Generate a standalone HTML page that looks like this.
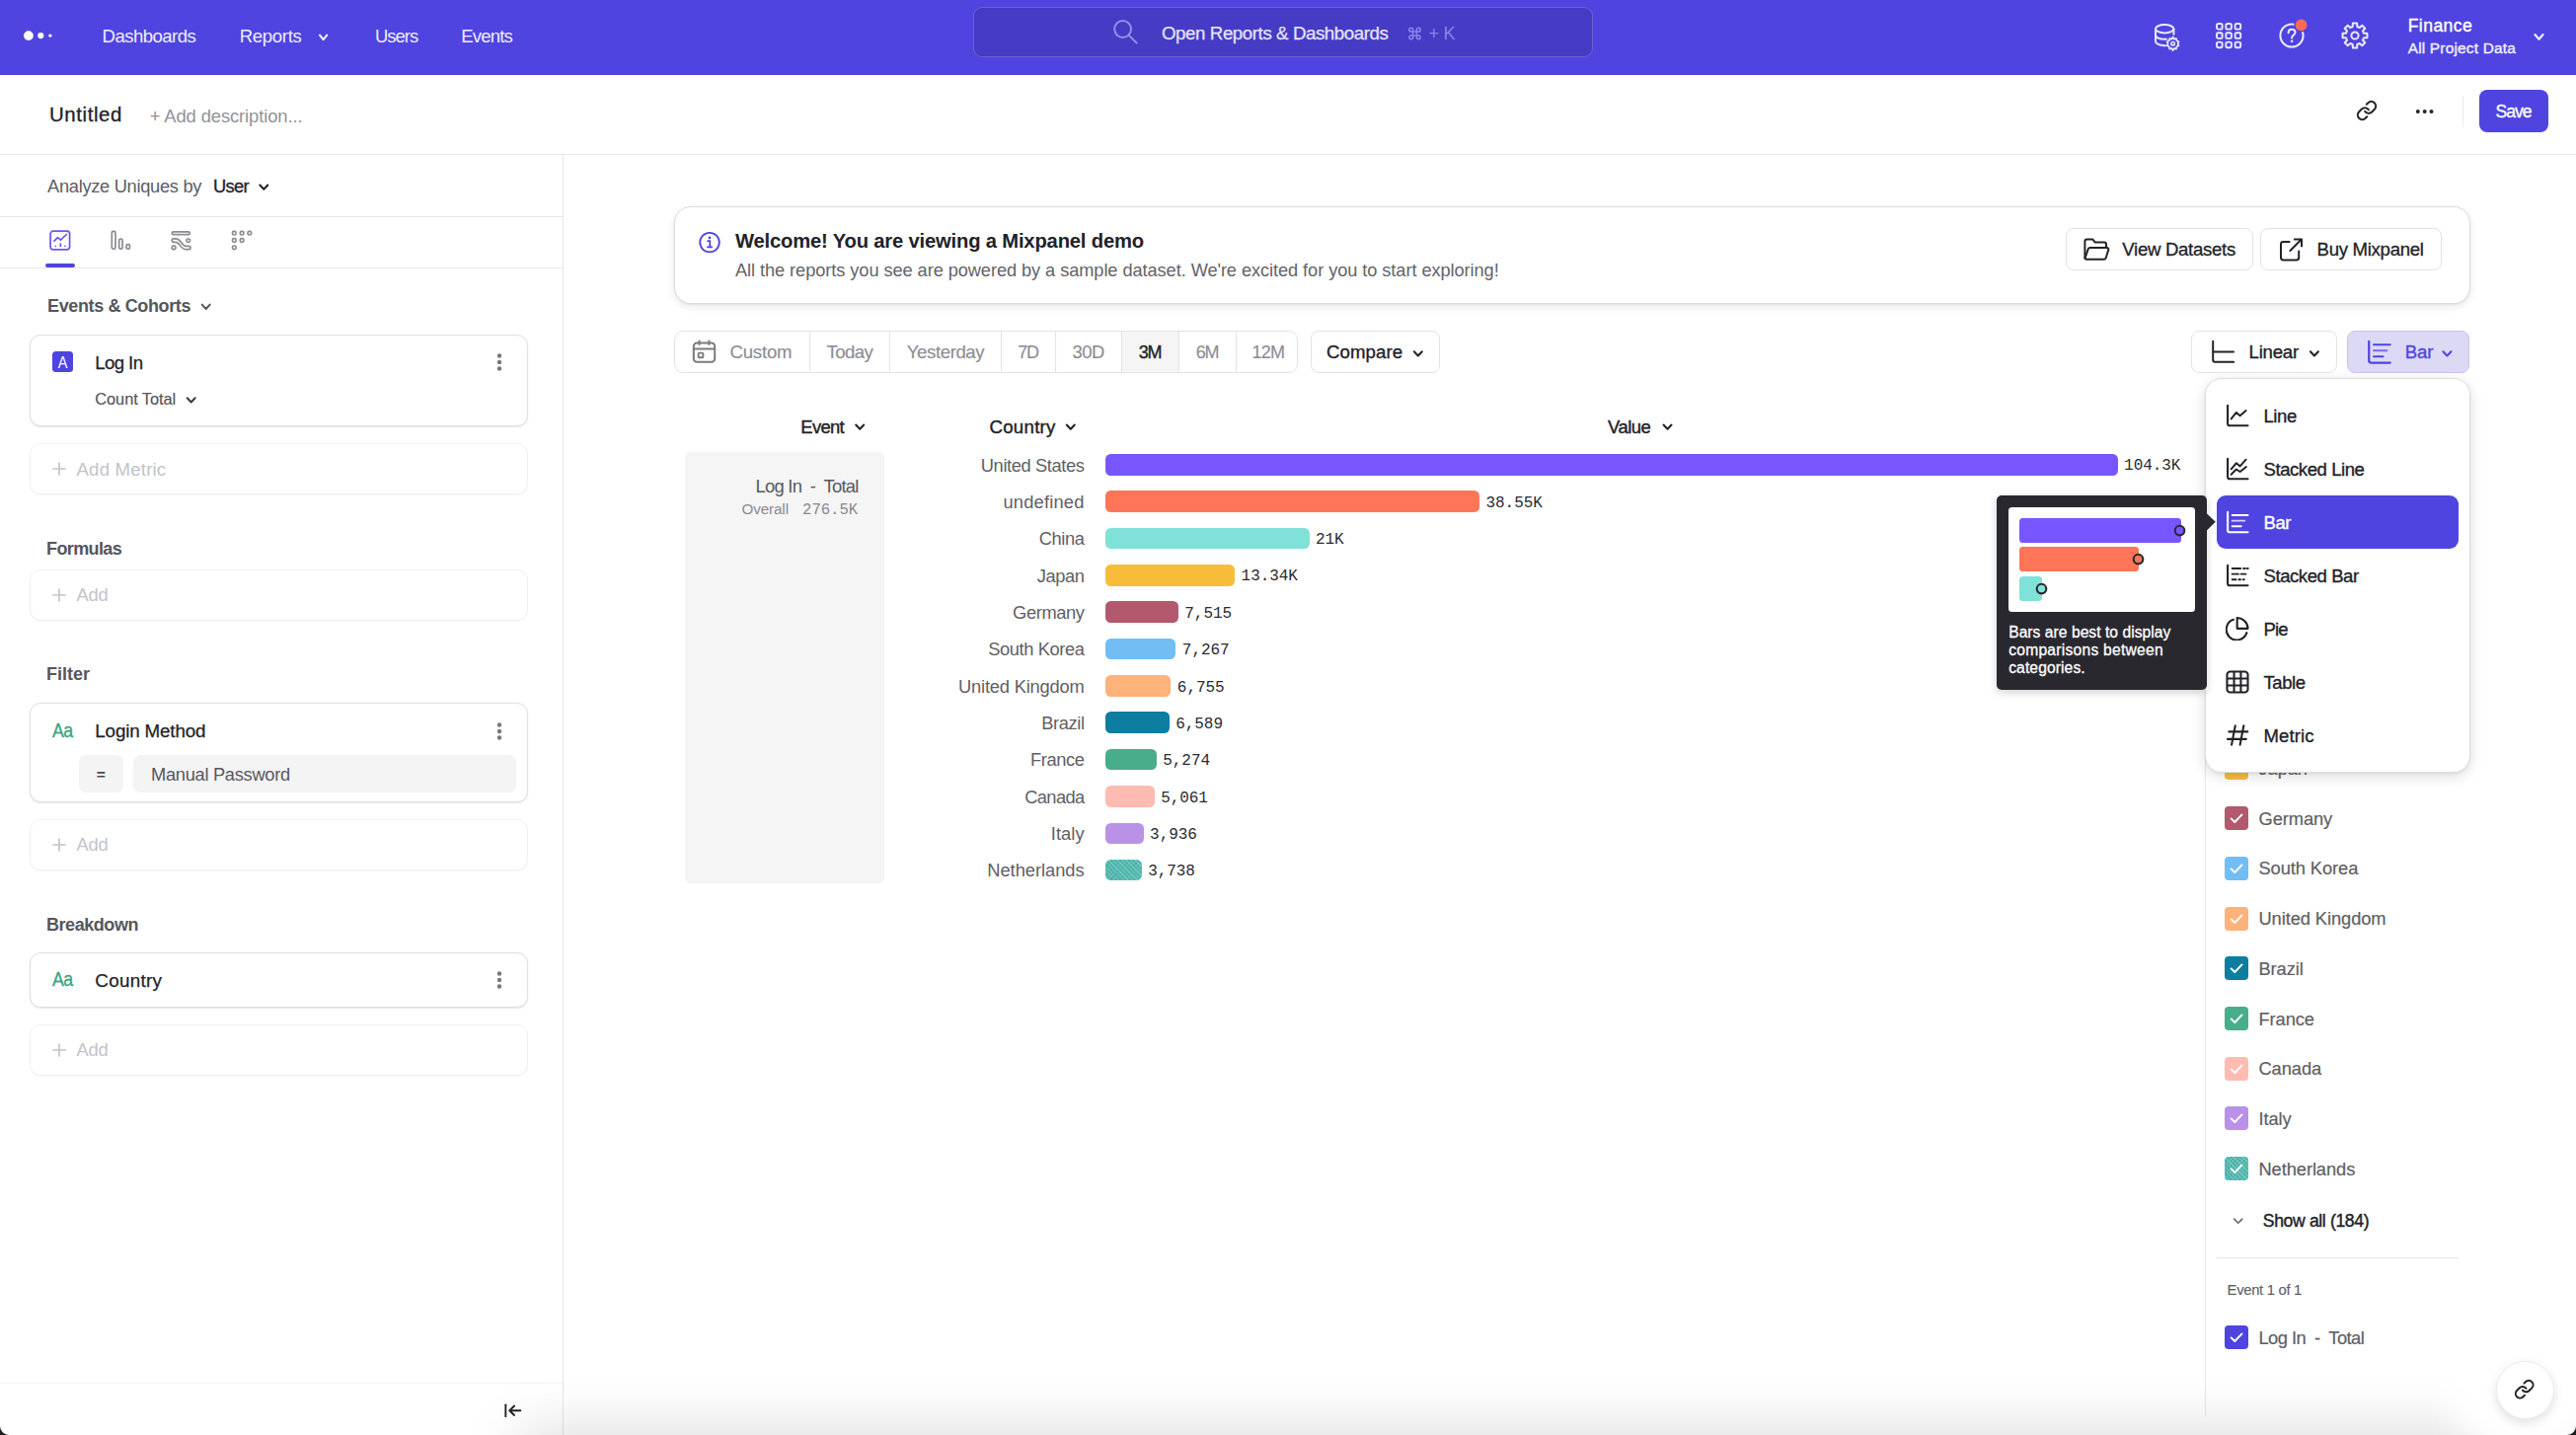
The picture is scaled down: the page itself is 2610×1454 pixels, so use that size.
<!DOCTYPE html>
<html lang="en">
<head>
<meta charset="utf-8">
<title>Untitled - Insights - Mixpanel</title>
<style>
html,body{margin:0;padding:0;background:#fff;font-family:"Liberation Sans",sans-serif;}
header,aside,main,section{display:block;margin:0;padding:0;}
body{width:2610px;height:1454px;overflow:hidden;font-family:"Liberation Sans",sans-serif;}
#app{position:relative;width:2610px;height:1454px;overflow:hidden;background:#fff;}
.t{position:absolute;line-height:1;white-space:nowrap;font-family:"Liberation Sans",sans-serif;}
.m{font-family:"Liberation Mono",monospace;}
svg{display:block;}
.card{box-sizing:border-box;border:1px solid #dfdfe3;border-radius:11px;background:#fff;box-shadow:0 1px 1.6px rgba(0,0,0,.09);}
.ghost{box-sizing:border-box;border:1px solid #f0f0f2;border-radius:11px;background:#fff;box-shadow:0 1px 1px rgba(0,0,0,.03);}
.btn{box-sizing:border-box;border:1px solid #e3e3e7;border-radius:8px;background:#fff;}
.cb{position:absolute;width:24px;height:24px;border-radius:4px;}
</style>
</head>
<body>
<div id="app">
<header>
<div style="position:absolute;left:0px;top:0px;width:2610px;height:76px;background:#4f44e0;"></div>
<svg style="position:absolute;left:20px;top:26px;" width="40" height="20" viewBox="0 0 40 20" fill="none"><circle cx="8.9" cy="10.1" r="4.9" fill="#fff"/><circle cx="21.3" cy="10.1" r="3.1" fill="#fff"/><circle cx="30.9" cy="10.1" r="1.7" fill="#fff"/></svg>
<span class="t" style="top:26px;left:103.5px;font-size:18.6px;line-height:21px;color:#efedfd;letter-spacing:-0.55px;">Dashboards</span>
<span class="t" style="top:26px;left:242.8px;font-size:18.6px;line-height:21px;color:#efedfd;letter-spacing:-0.35px;">Reports</span>
<svg style="position:absolute;left:0;top:0;overflow:visible" width="1" height="1"><path d="M323.9 35.5 L327.6 40.1 L331.3 35.5" stroke="#efedfd" stroke-width="2" fill="none" stroke-linecap="round" stroke-linejoin="round"/></svg>
<span class="t" style="top:26px;left:380px;font-size:18.4px;line-height:21px;color:#efedfd;letter-spacing:-0.95px;">Users</span>
<span class="t" style="top:26px;left:467.3px;font-size:18.5px;line-height:21px;color:#efedfd;letter-spacing:-0.8px;">Events</span>
<div style="position:absolute;left:985.5px;top:7.4px;width:628.4px;height:50.2px;box-sizing:border-box;background:#463bc4;border:1px solid rgba(255,255,255,.20);border-radius:9px;"></div>
<svg style="position:absolute;left:1126px;top:18px;" width="30" height="30" viewBox="0 0 30 30" fill="none"><circle cx="11.6" cy="11.5" r="8.4" stroke="#958ee9" stroke-width="2"/><path d="M17.7 17.6 L25.6 25.5" stroke="#958ee9" stroke-width="2" stroke-linecap="round"/></svg>
<span class="t" style="top:23px;left:1177px;font-size:18.7px;line-height:21px;color:#e6e4fc;letter-spacing:-0.42px;-webkit-text-stroke:0.25px #e6e4fc;">Open Reports &amp; Dashboards</span>
<svg style="position:absolute;left:1426px;top:26.6px;" width="15" height="14" viewBox="1 1 22 22" fill="none"><path d="M18 3a3 3 0 0 0-3 3v12a3 3 0 0 0 3 3 3 3 0 0 0 3-3 3 3 0 0 0-3-3H6a3 3 0 0 0-3 3 3 3 0 0 0 3 3 3 3 0 0 0 3-3V6a3 3 0 0 0-3-3 3 3 0 0 0-3 3 3 3 0 0 0 3 3h12a3 3 0 0 0 3-3 3 3 0 0 0-3-3z" stroke="#8b84e8" stroke-width="2.4" stroke-linejoin="round"/></svg>
<span class="t" style="top:24px;left:1447.6px;font-size:18px;line-height:20px;color:#8b84e8;">+</span>
<span class="t" style="top:24px;left:1462.6px;font-size:18px;line-height:20px;color:#8b84e8;">K</span>
<svg style="position:absolute;left:2181px;top:22px;" width="30" height="32" viewBox="0 0 30 32" fill="none"><ellipse cx="12.2" cy="7.2" rx="9.2" ry="4.2" stroke="#ebe9fc" stroke-width="2"/><path d="M3 7.2v6.4c0 2.3 4.1 4.2 9.2 4.2 .7 0 1.4 0 2-.1M3 13.6V20c0 2.3 4.1 4.2 9.2 4.2 .3 0 .6 0 .9 0M21.4 7.2v5.6" stroke="#ebe9fc" stroke-width="2" stroke-linecap="round"/><circle cx="20.6" cy="22.2" r="2" stroke="#ebe9fc" stroke-width="1.8"/><path d="M20.6 15.6l1.2 1.9 2.2-.4 .5 2.2 2 1-.9 2 .9 2-2 1-.5 2.2-2.2-.4-1.2 1.9-1.2-1.9-2.2 .4-.5-2.2-2-1 .9-2-.9-2 2-1 .5-2.2 2.2 .4z" stroke="#ebe9fc" stroke-width="1.8" stroke-linejoin="round" fill="#4f44e0"/><circle cx="20.6" cy="22.2" r="1.7" stroke="#ebe9fc" stroke-width="1.6" fill="#4f44e0"/></svg>
<svg style="position:absolute;left:2245.2px;top:23.4px;" width="27" height="27" viewBox="0 0 27 27" fill="none"><rect x="1" y="1" width="5.6" height="5.6" rx="1.6" stroke="#ebe9fc" stroke-width="1.9"/><rect x="10.3" y="1" width="5.6" height="5.6" rx="1.6" stroke="#ebe9fc" stroke-width="1.9"/><rect x="19.6" y="1" width="5.6" height="5.6" rx="1.6" stroke="#ebe9fc" stroke-width="1.9"/><rect x="1" y="10.3" width="5.6" height="5.6" rx="1.6" stroke="#ebe9fc" stroke-width="1.9"/><rect x="10.3" y="10.3" width="5.6" height="5.6" rx="1.6" stroke="#ebe9fc" stroke-width="1.9"/><rect x="19.6" y="10.3" width="5.6" height="5.6" rx="1.6" stroke="#ebe9fc" stroke-width="1.9"/><rect x="1" y="19.6" width="5.6" height="5.6" rx="1.6" stroke="#ebe9fc" stroke-width="1.9"/><rect x="10.3" y="19.6" width="5.6" height="5.6" rx="1.6" stroke="#ebe9fc" stroke-width="1.9"/><rect x="19.6" y="19.6" width="5.6" height="5.6" rx="1.6" stroke="#ebe9fc" stroke-width="1.9"/></svg>
<svg style="position:absolute;left:2308px;top:16px;" width="34" height="36" viewBox="0 0 34 36" fill="none"><circle cx="14" cy="20" r="11.6" stroke="#ebe9fc" stroke-width="2"/><path d="M10.6 17.2c0-2 1.5-3.4 3.5-3.4s3.4 1.3 3.4 3c0 2.6-3.4 2.8-3.4 5.6" stroke="#ebe9fc" stroke-width="2" stroke-linecap="round" fill="none"/><circle cx="14.1" cy="25.8" r="1.3" fill="#ebe9fc"/><circle cx="23.6" cy="9.4" r="7.2" fill="#4f44e0"/><circle cx="23.6" cy="9.4" r="5.9" fill="#ff6a52"/></svg>
<svg style="position:absolute;left:2372px;top:22px;" width="28" height="28" viewBox="0 0 28 28" fill="none"><path d="M11.7 4.99 L11.87 1.58 L16.13 1.58 L16.3 4.99 L18.74 6 L21.27 3.71 L24.29 6.73 L22 9.26 L23.01 11.7 L26.42 11.87 L26.42 16.13 L23.01 16.3 L22 18.74 L24.29 21.27 L21.27 24.29 L18.74 22 L16.3 23.01 L16.13 26.42 L11.87 26.42 L11.7 23.01 L9.26 22 L6.73 24.29 L3.71 21.27 L6 18.74 L4.99 16.3 L1.58 16.13 L1.58 11.87 L4.99 11.7 L6 9.26 L3.71 6.73 L6.73 3.71 L9.26 6Z" stroke="#ebe9fc" stroke-width="2" stroke-linejoin="round"/><circle cx="14" cy="14" r="3.6" stroke="#ebe9fc" stroke-width="2"/></svg>
<span class="t" style="top:16px;left:2439.7px;font-size:17.6px;line-height:20px;color:#fff;letter-spacing:0.42px;-webkit-text-stroke:0.35px #fff;">Finance</span>
<span class="t" style="top:40px;left:2439.7px;font-size:15.4px;line-height:17px;color:#f3f2fe;letter-spacing:0.2px;-webkit-text-stroke:0.35px #f3f2fe;">All Project Data</span>
<svg style="position:absolute;left:0;top:0;overflow:visible" width="1" height="1"><path d="M2568.45 35.05 L2572.5 39.76 L2576.56 35.05" stroke="#f3f2fe" stroke-width="2.1" fill="none" stroke-linecap="round" stroke-linejoin="round"/></svg>
<div style="position:absolute;left:0px;top:76px;width:2610px;height:80px;background:#fff;border-bottom:1px solid #e3e3e6;"></div>
<span class="t" style="top:105px;left:50px;font-size:20.4px;line-height:22px;color:#222228;letter-spacing:0.6px;-webkit-text-stroke:0.3px #222228;">Untitled</span>
<span class="t" style="top:107px;left:151.7px;font-size:18.4px;line-height:21px;color:#929298;letter-spacing:-0.11px;">+ Add description...</span>
<svg style="position:absolute;left:2387.4px;top:101.1px;" width="22" height="22" viewBox="0 0 24 24" fill="none"><path d="M10 13a5 5 0 0 0 7.540.540l3-3a5 5 0 0 0-7.070-7.070l-1.720 1.710" stroke="#25252b" stroke-width="2.3" stroke-linecap="round" stroke-linejoin="round"/><path d="M14 11a5 5 0 0 0-7.540-.540l-3 3a5 5 0 0 0 7.070 7.070l1.710-1.710" stroke="#25252b" stroke-width="2.3" stroke-linecap="round" stroke-linejoin="round"/></svg>
<svg style="position:absolute;left:2446px;top:109px;" width="22" height="8" viewBox="0 0 22 8" fill="none"><circle cx="3.8" cy="3.9" r="2" fill="#25252b"/><circle cx="10.7" cy="3.9" r="2" fill="#25252b"/><circle cx="17.5" cy="3.9" r="2" fill="#25252b"/></svg>
<div style="position:absolute;left:2495px;top:97px;width:1px;height:32px;background:#ededf0;"></div>
<div style="position:absolute;left:2512.2px;top:91.1px;width:69.8px;height:42.8px;background:#4f44e0;border-radius:8px;"></div>
<span class="t" style="top:103px;left:2528.6px;font-size:17.6px;line-height:20px;color:#fff;letter-spacing:-1.05px;-webkit-text-stroke:0.3px #fff;">Save</span>
</header>
<aside>
<div style="position:absolute;left:570px;top:157px;width:1px;height:1300px;background:#e6e6e9;"></div>
<span class="t" style="top:178px;left:48px;font-size:18.3px;line-height:21px;color:#5d5d63;letter-spacing:-0.3px;">Analyze Uniques by</span>
<span class="t" style="top:178px;left:216px;font-size:18.3px;line-height:21px;color:#222228;letter-spacing:-0.65px;-webkit-text-stroke:0.3px #222228;">User</span>
<svg style="position:absolute;left:0;top:0;overflow:visible" width="1" height="1"><path d="M263.3 187.45 L267.3 191.75 L271.3 187.45" stroke="#222228" stroke-width="2" fill="none" stroke-linecap="round" stroke-linejoin="round"/></svg>
<div style="position:absolute;left:0px;top:219px;width:570px;height:1px;background:#e6e6e9;"></div>
<svg style="position:absolute;left:49px;top:232px;" width="24" height="24" viewBox="0 0 24 24" fill="none"><rect x="2.100" y="2.200" width="19.500" height="18.600" rx="2.800" stroke="#6c55f0" stroke-width="1.700"/><path d="M6 12.200l3.500-3.600 2.900 2.500 6-5.600" stroke="#6c55f0" stroke-width="1.700" stroke-linecap="round" stroke-linejoin="round"/><path d="M7.300 17.500v-.300M12.300 17.600v-2.600M16.900 17.500v-.300" stroke="#6c55f0" stroke-width="1.600" stroke-linecap="round"/></svg>
<div style="position:absolute;left:46px;top:267px;width:30px;height:4px;background:#4f44e0;border-radius:2px;"></div>
<svg style="position:absolute;left:111px;top:232px;" width="24" height="24" viewBox="0 0 24 24" fill="none"><rect x="2.300" y="2.400" width="3.700" height="17.800" rx="1.500" stroke="#8b8b92" stroke-width="1.700"/><rect x="9.700" y="10.200" width="3.400" height="10" rx="1.400" stroke="#8b8b92" stroke-width="1.700"/><rect x="17.100" y="15.600" width="3.400" height="4.600" rx="1.300" stroke="#8b8b92" stroke-width="1.700"/></svg>
<svg style="position:absolute;left:172px;top:232px;" width="24" height="24" viewBox="0 0 24 24" fill="none"><rect x="2.300" y="2.800" width="18" height="2.800" rx="1.400" stroke="#8b8b92" stroke-width="1.700"/><path d="M3.900 9.900h2.300c5.200 0 5.600 7.400 10.400 7.400h2.700a1.700 1.700 0 0 1 0 3.400h-3c-5.500 0-6-7.400-10.200-7.400H3.900a1.700 1.700 0 0 1 0-3.400z" stroke="#8b8b92" stroke-width="1.700" stroke-linejoin="round"/><rect x="17" y="10" width="3.500" height="3.300" rx="1.300" stroke="#8b8b92" stroke-width="1.700"/><rect x="2.300" y="17.200" width="3.600" height="3.500" rx="1.300" stroke="#8b8b92" stroke-width="1.700"/></svg>
<svg style="position:absolute;left:233px;top:232px;" width="24" height="24" viewBox="0 0 24 24" fill="none"><rect x="2.5" y="2.4" width="3.600" height="3.600" rx="1.500" stroke="#8b8b92" stroke-width="1.700"/><rect x="10.3" y="2.4" width="3.600" height="3.600" rx="1.500" stroke="#8b8b92" stroke-width="1.700"/><rect x="18" y="2.4" width="3.600" height="3.600" rx="1.500" stroke="#8b8b92" stroke-width="1.700"/><rect x="2.5" y="9.7" width="3.600" height="3.600" rx="1.500" stroke="#8b8b92" stroke-width="1.700"/><rect x="10.3" y="9.7" width="3.600" height="3.600" rx="1.500" stroke="#8b8b92" stroke-width="1.700"/><rect x="2.5" y="17" width="3.600" height="3.600" rx="1.500" stroke="#8b8b92" stroke-width="1.700"/></svg>
<div style="position:absolute;left:0px;top:271px;width:570px;height:1px;background:#e6e6e9;"></div>
<span class="t" style="top:300px;left:48px;font-size:18px;line-height:20px;color:#56565c;font-weight:700;letter-spacing:-0.37px;">Events &amp; Cohorts</span>
<svg style="position:absolute;left:0;top:0;overflow:visible" width="1" height="1"><path d="M204.7 308.65 L208.7 312.95 L212.7 308.65" stroke="#56565c" stroke-width="2" fill="none" stroke-linecap="round" stroke-linejoin="round"/></svg>
<div class="card" style="position:absolute;left:30px;top:339px;width:505px;height:93px;"></div>
<div style="position:absolute;left:52.8px;top:356.2px;width:21.2px;height:21px;background:#4f44e0;border-radius:3.5px;"></div>
<span class="t" style="top:358px;left:58.1px;font-size:16.8px;line-height:19px;color:#fff;transform:scaleX(.86);transform-origin:50% 50%;">A</span>
<span class="t" style="top:357px;left:96.3px;font-size:18.6px;line-height:21px;color:#222228;letter-spacing:-0.6px;-webkit-text-stroke:0.25px #222228;">Log In</span>
<svg style="position:absolute;left:502px;top:355.8px;" width="8" height="22" viewBox="0 0 8 22" fill="none"><circle cx="4" cy="4.5" r="2.2" fill="#77777d"/><circle cx="4" cy="11" r="2.2" fill="#77777d"/><circle cx="4" cy="17.5" r="2.2" fill="#77777d"/></svg>
<span class="t" style="top:395px;left:96.3px;font-size:16.4px;line-height:18px;color:#54545a;letter-spacing:-0.08px;-webkit-text-stroke:0.15px #54545a;">Count Total</span>
<svg style="position:absolute;left:0;top:0;overflow:visible" width="1" height="1"><path d="M189.7 403.25 L193.7 407.55 L197.7 403.25" stroke="#3a3a40" stroke-width="2" fill="none" stroke-linecap="round" stroke-linejoin="round"/></svg>
<div class="ghost" style="position:absolute;left:30px;top:449px;width:505px;height:52px;"></div>
<svg style="position:absolute;left:53px;top:468.2px;" width="14" height="14" viewBox="0 0 14 14" fill="none"><path d="M7 1v12M1 7h12" stroke="#c3c3c9" stroke-width="1.7" stroke-linecap="round"/></svg>
<span class="t" style="top:465px;left:77.5px;font-size:18.6px;line-height:21px;color:#c3c3c9;letter-spacing:0.2px;">Add Metric</span>
<span class="t" style="top:546px;left:47px;font-size:18px;line-height:20px;color:#56565c;font-weight:700;letter-spacing:-0.62px;">Formulas</span>
<div class="ghost" style="position:absolute;left:30px;top:576.6px;width:505px;height:52px;"></div>
<svg style="position:absolute;left:53px;top:595.6px;" width="14" height="14" viewBox="0 0 14 14" fill="none"><path d="M7 1v12M1 7h12" stroke="#c3c3c9" stroke-width="1.7" stroke-linecap="round"/></svg>
<span class="t" style="top:592px;left:77.5px;font-size:18.3px;line-height:21px;color:#c3c3c9;letter-spacing:-0.15px;">Add</span>
<span class="t" style="top:673px;left:47px;font-size:18px;line-height:20px;color:#56565c;font-weight:700;">Filter</span>
<div class="card" style="position:absolute;left:30px;top:712.4px;width:505px;height:100.6px;"></div>
<span class="t" style="top:729px;left:52.8px;font-size:20.2px;line-height:22px;color:#3fa583;letter-spacing:-0.6px;-webkit-text-stroke:0.35px #3fa583;transform:scaleX(.88);transform-origin:0 50%;">Aa</span>
<span class="t" style="top:730px;left:96.3px;font-size:18.8px;line-height:21px;color:#222228;letter-spacing:-0.15px;-webkit-text-stroke:0.25px #222228;">Login Method</span>
<svg style="position:absolute;left:502px;top:730px;" width="8" height="22" viewBox="0 0 8 22" fill="none"><circle cx="4" cy="4.5" r="2.2" fill="#77777d"/><circle cx="4" cy="11" r="2.2" fill="#77777d"/><circle cx="4" cy="17.5" r="2.2" fill="#77777d"/></svg>
<div style="position:absolute;left:80px;top:765px;width:44.8px;height:37.7px;background:#f4f4f5;border-radius:7px;"></div>
<span class="t" style="top:776px;left:97.8px;font-size:15.5px;line-height:17px;color:#4a4a50;font-weight:700;">=</span>
<div style="position:absolute;left:134.8px;top:765px;width:388px;height:37.7px;background:#f4f4f5;border-radius:7px;"></div>
<span class="t" style="top:774px;left:153px;font-size:18.3px;line-height:21px;color:#58585e;letter-spacing:-0.3px;">Manual Password</span>
<div class="ghost" style="position:absolute;left:30px;top:829.7px;width:505px;height:52px;"></div>
<svg style="position:absolute;left:53px;top:848.7px;" width="14" height="14" viewBox="0 0 14 14" fill="none"><path d="M7 1v12M1 7h12" stroke="#c3c3c9" stroke-width="1.7" stroke-linecap="round"/></svg>
<span class="t" style="top:845px;left:77.5px;font-size:18.3px;line-height:21px;color:#c3c3c9;letter-spacing:-0.15px;">Add</span>
<span class="t" style="top:927px;left:47px;font-size:18px;line-height:20px;color:#56565c;font-weight:700;letter-spacing:-0.45px;">Breakdown</span>
<div class="card" style="position:absolute;left:30px;top:965.4px;width:505px;height:55.8px;"></div>
<span class="t" style="top:981px;left:52.8px;font-size:20.2px;line-height:22px;color:#3fa583;letter-spacing:-0.6px;-webkit-text-stroke:0.35px #3fa583;transform:scaleX(.88);transform-origin:0 50%;">Aa</span>
<span class="t" style="top:983px;left:96.3px;font-size:18.8px;line-height:21px;color:#222228;letter-spacing:0.3px;-webkit-text-stroke:0.25px #222228;">Country</span>
<svg style="position:absolute;left:502px;top:982.4px;" width="8" height="22" viewBox="0 0 8 22" fill="none"><circle cx="4" cy="4.5" r="2.2" fill="#77777d"/><circle cx="4" cy="11" r="2.2" fill="#77777d"/><circle cx="4" cy="17.5" r="2.2" fill="#77777d"/></svg>
<div class="ghost" style="position:absolute;left:30px;top:1038px;width:505px;height:52px;"></div>
<svg style="position:absolute;left:53px;top:1057px;" width="14" height="14" viewBox="0 0 14 14" fill="none"><path d="M7 1v12M1 7h12" stroke="#c3c3c9" stroke-width="1.7" stroke-linecap="round"/></svg>
<span class="t" style="top:1053px;left:77.5px;font-size:18.3px;line-height:21px;color:#c3c3c9;letter-spacing:-0.15px;">Add</span>
<div style="position:absolute;left:0px;top:1401px;width:570px;height:1px;background:#f3f3f5;"></div>
<svg style="position:absolute;left:509.8px;top:1421.1px;" width="19.7" height="16.1" viewBox="0 0 22 18" fill="none"><path d="M2.6 2.6v13.2" stroke="#222228" stroke-width="2.1" stroke-linecap="round"/><path d="M19.4 9.2H7.2M12.4 3.9 7 9.2l5.4 5.3" stroke="#222228" stroke-width="2.1" stroke-linecap="round" stroke-linejoin="round"/></svg>
</aside>
<main>
<div style="position:absolute;left:682.5px;top:209px;width:1820.5px;height:98.6px;box-sizing:border-box;background:#fff;border:1px solid #dcdce0;border-radius:17px;box-shadow:0 3px 8px rgba(0,0,0,.09),0 1px 2px rgba(0,0,0,.05);"></div>
<svg style="position:absolute;left:707px;top:234px;" width="24" height="24" viewBox="0 0 24 24" fill="none"><circle cx="12" cy="11.6" r="9.8" stroke="#4f44e0" stroke-width="1.850"/><circle cx="12" cy="6.9" r="1.35" fill="#4f44e0"/><path d="M10.2 10.2h2.1v6M9.9 16.3h4.4" stroke="#4f44e0" stroke-width="1.8" stroke-linecap="round" stroke-linejoin="round"/></svg>
<span class="t" style="top:233px;left:745px;font-size:20.2px;line-height:22px;color:#222228;font-weight:700;letter-spacing:-0.17px;">Welcome! You are viewing a Mixpanel demo</span>
<span class="t" style="top:264px;left:745px;font-size:18.2px;line-height:20px;color:#636368;letter-spacing:-0.06px;">All the reports you see are powered by a sample dataset. We're excited for you to start exploring!</span>
<div class="btn" style="position:absolute;left:2093.3px;top:231.4px;width:189.6px;height:42.6px;"></div>
<svg style="position:absolute;left:2110px;top:239px;" width="29" height="28" viewBox="0 0 29 28" fill="none"><path d="M2.400 22.400V5.400c0-1.200.9-2 2-2h5.800l2.600 3.200h9.200c1.200 0 2 .9 2 2v3.200" stroke="#222228" stroke-width="2" stroke-linejoin="round" stroke-linecap="round"/><path d="M2.500 22.800l3.200-9.400c.3-.8 1-1.300 1.900-1.300h17.200c1.100 0 1.800 1 1.500 2l-2.600 8.200c-.3.800-1 1.400-1.900 1.400H4c-1 0-1.700-.700-1.500-1.600z" stroke="#222228" stroke-width="2" stroke-linejoin="round"/></svg>
<span class="t" style="top:242px;left:2150.3px;font-size:18.6px;line-height:21px;color:#222228;letter-spacing:-0.3px;-webkit-text-stroke:0.3px #222228;">View Datasets</span>
<div class="btn" style="position:absolute;left:2289.8px;top:231.4px;width:184.2px;height:42.6px;"></div>
<svg style="position:absolute;left:2308px;top:239.6px;" width="28" height="27" viewBox="0 0 28 27" fill="none"><path d="M11.600 5H5.400c-1.400 0-2.400 1-2.400 2.400v13.600c0 1.400 1 2.400 2.400 2.400h13.400c1.400 0 2.400-1 2.400-2.400v-6.400" stroke="#222228" stroke-width="2" stroke-linecap="round"/><path d="M16.800 2.400h7.200v7.200M23.600 2.800 12.400 14" stroke="#222228" stroke-width="2" stroke-linecap="round" stroke-linejoin="round"/></svg>
<span class="t" style="top:242px;left:2347.6px;font-size:18.6px;line-height:21px;color:#222228;letter-spacing:-0.3px;-webkit-text-stroke:0.3px #222228;">Buy Mixpanel</span>
<div style="position:absolute;left:683.3px;top:335px;width:632.2px;height:42.5px;box-sizing:border-box;border:1px solid #e3e3e7;border-radius:9px;background:#fff;"></div>
<div style="position:absolute;left:1137px;top:336px;width:57.5px;height:40.5px;background:#f5f5f6;"></div>
<div style="position:absolute;left:820.3px;top:336px;width:1px;height:41px;background:#e3e3e7;"></div>
<div style="position:absolute;left:901.3px;top:336px;width:1px;height:41px;background:#e3e3e7;"></div>
<div style="position:absolute;left:1014.3px;top:336px;width:1px;height:41px;background:#e3e3e7;"></div>
<div style="position:absolute;left:1069.3px;top:336px;width:1px;height:41px;background:#e3e3e7;"></div>
<div style="position:absolute;left:1136.3px;top:336px;width:1px;height:41px;background:#e3e3e7;"></div>
<div style="position:absolute;left:1194.3px;top:336px;width:1px;height:41px;background:#e3e3e7;"></div>
<div style="position:absolute;left:1252.3px;top:336px;width:1px;height:41px;background:#e3e3e7;"></div>
<svg style="position:absolute;left:701px;top:343px;" width="26" height="26" viewBox="0 0 26 26" fill="none"><rect x="1.8" y="4.400" width="21.400" height="19.400" rx="3.400" stroke="#7a7a80" stroke-width="2"/><path d="M2 10.400h21M7.600 2.600v3.400M17.400 2.600v3.400" stroke="#7a7a80" stroke-width="2" stroke-linecap="round"/><rect x="6.600" y="14.600" width="4.800" height="4.600" rx="1" stroke="#7a7a80" stroke-width="1.900"/></svg>
<span class="t" style="top:346px;left:739.5px;font-size:18.6px;line-height:21px;color:#8d8d93;letter-spacing:-0.2px;-webkit-text-stroke:0.15px #8d8d93;">Custom</span>
<span class="t" style="top:346px;left:837.5px;font-size:18.6px;line-height:21px;color:#8d8d93;letter-spacing:-0.6px;-webkit-text-stroke:0.15px #8d8d93;">Today</span>
<span class="t" style="top:346px;left:918.8px;font-size:18.6px;line-height:21px;color:#8d8d93;letter-spacing:-0.4px;-webkit-text-stroke:0.15px #8d8d93;">Yesterday</span>
<span class="t" style="top:347px;left:1031.3px;font-size:18px;line-height:20px;color:#8d8d93;letter-spacing:-1.2px;-webkit-text-stroke:0.15px #8d8d93;">7D</span>
<span class="t" style="top:346px;left:1086.5px;font-size:18.4px;line-height:21px;color:#8d8d93;letter-spacing:-0.45px;-webkit-text-stroke:0.15px #8d8d93;">30D</span>
<span class="t" style="top:347px;left:1153.8px;font-size:18px;line-height:20px;color:#222228;letter-spacing:-1.2px;-webkit-text-stroke:0.35px #222228;">3M</span>
<span class="t" style="top:347px;left:1211.8px;font-size:18px;line-height:20px;color:#8d8d93;letter-spacing:-1.2px;-webkit-text-stroke:0.15px #8d8d93;">6M</span>
<span class="t" style="top:347px;left:1268.5px;font-size:18px;line-height:20px;color:#8d8d93;letter-spacing:-0.8px;-webkit-text-stroke:0.15px #8d8d93;">12M</span>
<div class="btn" style="position:absolute;left:1327.5px;top:335px;width:131.2px;height:42.5px;"></div>
<span class="t" style="top:346px;left:1344px;font-size:18.6px;line-height:21px;color:#222228;letter-spacing:0.12px;-webkit-text-stroke:0.35px #222228;">Compare</span>
<svg style="position:absolute;left:0;top:0;overflow:visible" width="1" height="1"><path d="M1432.8 356.25 L1436.8 360.55 L1440.8 356.25" stroke="#222228" stroke-width="2" fill="none" stroke-linecap="round" stroke-linejoin="round"/></svg>
<span class="t" style="top:422px;left:811.3px;font-size:18.4px;line-height:21px;color:#222228;letter-spacing:-0.65px;-webkit-text-stroke:0.4px #222228;">Event</span>
<svg style="position:absolute;left:0;top:0;overflow:visible" width="1" height="1"><path d="M867.2 430.45 L871.2 434.75 L875.2 430.45" stroke="#222228" stroke-width="2" fill="none" stroke-linecap="round" stroke-linejoin="round"/></svg>
<span class="t" style="top:422px;left:1002.5px;font-size:18.6px;line-height:21px;color:#222228;letter-spacing:0.3px;-webkit-text-stroke:0.4px #222228;">Country</span>
<svg style="position:absolute;left:0;top:0;overflow:visible" width="1" height="1"><path d="M1080.8 430.45 L1084.8 434.75 L1088.8 430.45" stroke="#222228" stroke-width="2" fill="none" stroke-linecap="round" stroke-linejoin="round"/></svg>
<span class="t" style="top:422px;left:1629px;font-size:18.4px;line-height:21px;color:#222228;letter-spacing:-0.5px;-webkit-text-stroke:0.4px #222228;">Value</span>
<svg style="position:absolute;left:0;top:0;overflow:visible" width="1" height="1"><path d="M1685.5 430.45 L1689.5 434.75 L1693.5 430.45" stroke="#222228" stroke-width="2" fill="none" stroke-linecap="round" stroke-linejoin="round"/></svg>
<div style="position:absolute;left:694.3px;top:458px;width:201.5px;height:436.5px;background:#f5f5f6;border-radius:5px;"></div>
<span class="t" style="top:482px;right:1740.4px;font-size:18.4px;line-height:21px;color:#58585e;letter-spacing:-0.76px;">Log In &nbsp;-&nbsp; Total</span>
<span class="t m" style="top:508px;right:1740.8px;font-size:15.6px;line-height:18px;color:#8a8a90;">276.5K</span>
<span class="t" style="top:507px;left:751.5px;font-size:15.2px;line-height:17px;color:#8a8a90;letter-spacing:-0.1px;">Overall</span>
<div style="position:absolute;left:1120px;top:460px;width:1025.7px;height:21.6px;background:#7856ff;border-radius:5.5px;"></div>
<span class="t" style="top:461px;right:1511.4px;font-size:18.3px;line-height:21px;color:#5f5f65;letter-spacing:-0.38px;">United States</span>
<span class="t m" style="top:463px;left:2152.1px;font-size:16px;line-height:18px;color:#2b2b31;letter-spacing:-0.05px;">104.3K</span>
<div style="position:absolute;left:1120px;top:497.35px;width:379.11px;height:21.6px;background:#ff7557;border-radius:5.5px;"></div>
<span class="t" style="top:498px;right:1511.4px;font-size:18.3px;line-height:21px;color:#5f5f65;letter-spacing:0.2px;">undefined</span>
<span class="t m" style="top:501px;left:1505.51px;font-size:16px;line-height:18px;color:#2b2b31;letter-spacing:-0.05px;">38.55K</span>
<div style="position:absolute;left:1120px;top:534.7px;width:206.52px;height:21.6px;background:#80e1d9;border-radius:5.5px;"></div>
<span class="t" style="top:535px;right:1511.4px;font-size:18.3px;line-height:21px;color:#5f5f65;letter-spacing:-0.38px;">China</span>
<span class="t m" style="top:538px;left:1332.92px;font-size:16px;line-height:18px;color:#2b2b31;letter-spacing:-0.05px;">21K</span>
<div style="position:absolute;left:1120px;top:572.05px;width:131.19px;height:21.6px;background:#f8bc3b;border-radius:5.5px;"></div>
<span class="t" style="top:573px;right:1511.4px;font-size:18.3px;line-height:21px;color:#5f5f65;letter-spacing:-0.38px;">Japan</span>
<span class="t m" style="top:575px;left:1257.59px;font-size:16px;line-height:18px;color:#2b2b31;letter-spacing:-0.05px;">13.34K</span>
<div style="position:absolute;left:1120px;top:609.4px;width:73.9px;height:21.6px;background:#b2596e;border-radius:5.5px;"></div>
<span class="t" style="top:610px;right:1511.4px;font-size:18.3px;line-height:21px;color:#5f5f65;letter-spacing:-0.38px;">Germany</span>
<span class="t m" style="top:613px;left:1200.3px;font-size:16px;line-height:18px;color:#2b2b31;letter-spacing:-0.05px;">7,515</span>
<div style="position:absolute;left:1120px;top:646.75px;width:71.46px;height:21.6px;background:#72bef4;border-radius:5.5px;"></div>
<span class="t" style="top:647px;right:1511.4px;font-size:18.3px;line-height:21px;color:#5f5f65;letter-spacing:-0.38px;">South Korea</span>
<span class="t m" style="top:650px;left:1197.86px;font-size:16px;line-height:18px;color:#2b2b31;letter-spacing:-0.05px;">7,267</span>
<div style="position:absolute;left:1120px;top:684.1px;width:66.43px;height:21.6px;background:#ffb27a;border-radius:5.5px;"></div>
<span class="t" style="top:685px;right:1511.4px;font-size:18.3px;line-height:21px;color:#5f5f65;letter-spacing:-0.18px;">United Kingdom</span>
<span class="t m" style="top:688px;left:1192.83px;font-size:16px;line-height:18px;color:#2b2b31;letter-spacing:-0.05px;">6,755</span>
<div style="position:absolute;left:1120px;top:721.45px;width:64.8px;height:21.6px;background:#0d7ea0;border-radius:5.5px;"></div>
<span class="t" style="top:722px;right:1511.4px;font-size:18.3px;line-height:21px;color:#5f5f65;letter-spacing:-0.38px;">Brazil</span>
<span class="t m" style="top:725px;left:1191.2px;font-size:16px;line-height:18px;color:#2b2b31;letter-spacing:-0.05px;">6,589</span>
<div style="position:absolute;left:1120px;top:758.8px;width:51.87px;height:21.6px;background:#48ad8b;border-radius:5.5px;"></div>
<span class="t" style="top:759px;right:1511.4px;font-size:18.3px;line-height:21px;color:#5f5f65;letter-spacing:-0.38px;">France</span>
<span class="t m" style="top:762px;left:1178.27px;font-size:16px;line-height:18px;color:#2b2b31;letter-spacing:-0.05px;">5,274</span>
<div style="position:absolute;left:1120px;top:796.15px;width:49.77px;height:21.6px;background:#febbb2;border-radius:5.5px;"></div>
<span class="t" style="top:797px;right:1511.4px;font-size:18.3px;line-height:21px;color:#5f5f65;letter-spacing:-0.6px;">Canada</span>
<span class="t m" style="top:800px;left:1176.17px;font-size:16px;line-height:18px;color:#2b2b31;letter-spacing:-0.05px;">5,061</span>
<div style="position:absolute;left:1120px;top:833.5px;width:38.71px;height:21.6px;background:#b992e8;border-radius:5.5px;"></div>
<span class="t" style="top:834px;right:1511.4px;font-size:18.3px;line-height:21px;color:#5f5f65;letter-spacing:0.05px;">Italy</span>
<span class="t m" style="top:837px;left:1165.11px;font-size:16px;line-height:18px;color:#2b2b31;letter-spacing:-0.05px;">3,936</span>
<div style="position:absolute;left:1120px;top:870.85px;width:36.76px;height:21.6px;background-color:#5bb7af;background-image:repeating-linear-gradient(45deg,rgba(120,225,200,.55) 0 1px,transparent 1px 3.2px),repeating-linear-gradient(-45deg,rgba(50,150,170,.40) 0 1px,transparent 1px 3.2px);border-radius:5.5px;"></div>
<span class="t" style="top:871px;right:1511.4px;font-size:18.3px;line-height:21px;color:#5f5f65;letter-spacing:-0.02px;">Netherlands</span>
<span class="t m" style="top:874px;left:1163.16px;font-size:16px;line-height:18px;color:#2b2b31;letter-spacing:-0.05px;">3,738</span>
</main>
<section>
<div style="position:absolute;left:2234px;top:400px;width:1px;height:1035px;background:#e6e6e9;"></div>
<div class="cb" style="left:2253.7px;top:766.4px;background:#f8bc3b;"><svg width="24" height="24" viewBox="0 0 24 24" fill="none"><path d="M6.600 12.400l3.700 3.600 7.200-7.600" stroke="#fff" stroke-width="1.900" stroke-linecap="round" stroke-linejoin="round"/></svg></div>
<span class="t" style="top:768px;left:2288.5px;font-size:18.3px;line-height:21px;color:#5f5f65;letter-spacing:-0.08px;-webkit-text-stroke:0.2px #5f5f65;">Japan</span>
<div class="cb" style="left:2253.7px;top:817.12px;background:#b2596e;"><svg width="24" height="24" viewBox="0 0 24 24" fill="none"><path d="M6.600 12.400l3.700 3.600 7.200-7.600" stroke="#fff" stroke-width="1.900" stroke-linecap="round" stroke-linejoin="round"/></svg></div>
<span class="t" style="top:819px;left:2288.5px;font-size:18.3px;line-height:21px;color:#5f5f65;letter-spacing:-0.08px;-webkit-text-stroke:0.2px #5f5f65;">Germany</span>
<div class="cb" style="left:2253.7px;top:867.84px;background:#72bef4;"><svg width="24" height="24" viewBox="0 0 24 24" fill="none"><path d="M6.600 12.400l3.700 3.600 7.200-7.600" stroke="#fff" stroke-width="1.900" stroke-linecap="round" stroke-linejoin="round"/></svg></div>
<span class="t" style="top:869px;left:2288.5px;font-size:18.3px;line-height:21px;color:#5f5f65;letter-spacing:-0.08px;-webkit-text-stroke:0.2px #5f5f65;">South Korea</span>
<div class="cb" style="left:2253.7px;top:918.56px;background:#ffb27a;"><svg width="24" height="24" viewBox="0 0 24 24" fill="none"><path d="M6.600 12.400l3.700 3.600 7.200-7.600" stroke="#fff" stroke-width="1.900" stroke-linecap="round" stroke-linejoin="round"/></svg></div>
<span class="t" style="top:920px;left:2288.5px;font-size:18.3px;line-height:21px;color:#5f5f65;letter-spacing:-0.08px;-webkit-text-stroke:0.2px #5f5f65;">United Kingdom</span>
<div class="cb" style="left:2253.7px;top:969.28px;background:#0d7ea0;"><svg width="24" height="24" viewBox="0 0 24 24" fill="none"><path d="M6.600 12.400l3.700 3.600 7.200-7.600" stroke="#fff" stroke-width="1.900" stroke-linecap="round" stroke-linejoin="round"/></svg></div>
<span class="t" style="top:971px;left:2288.5px;font-size:18.3px;line-height:21px;color:#5f5f65;letter-spacing:-0.08px;-webkit-text-stroke:0.2px #5f5f65;">Brazil</span>
<div class="cb" style="left:2253.7px;top:1020px;background:#48ad8b;"><svg width="24" height="24" viewBox="0 0 24 24" fill="none"><path d="M6.600 12.400l3.700 3.600 7.200-7.600" stroke="#fff" stroke-width="1.900" stroke-linecap="round" stroke-linejoin="round"/></svg></div>
<span class="t" style="top:1022px;left:2288.5px;font-size:18.3px;line-height:21px;color:#5f5f65;letter-spacing:-0.08px;-webkit-text-stroke:0.2px #5f5f65;">France</span>
<div class="cb" style="left:2253.7px;top:1070.72px;background:#febbb2;"><svg width="24" height="24" viewBox="0 0 24 24" fill="none"><path d="M6.600 12.400l3.700 3.600 7.200-7.600" stroke="#fff" stroke-width="1.900" stroke-linecap="round" stroke-linejoin="round"/></svg></div>
<span class="t" style="top:1072px;left:2288.5px;font-size:18.3px;line-height:21px;color:#5f5f65;letter-spacing:-0.08px;-webkit-text-stroke:0.2px #5f5f65;">Canada</span>
<div class="cb" style="left:2253.7px;top:1121.44px;background:#b992e8;"><svg width="24" height="24" viewBox="0 0 24 24" fill="none"><path d="M6.600 12.400l3.700 3.600 7.200-7.600" stroke="#fff" stroke-width="1.900" stroke-linecap="round" stroke-linejoin="round"/></svg></div>
<span class="t" style="top:1123px;left:2288.5px;font-size:18.3px;line-height:21px;color:#5f5f65;letter-spacing:-0.08px;-webkit-text-stroke:0.2px #5f5f65;">Italy</span>
<div class="cb" style="left:2253.7px;top:1172.16px;background:#5bb7af;background-image:repeating-linear-gradient(45deg,rgba(120,225,200,.55) 0 1px,transparent 1px 3.200px),repeating-linear-gradient(-45deg,rgba(50,150,170,.40) 0 1px,transparent 1px 3.200px);"><svg width="24" height="24" viewBox="0 0 24 24" fill="none"><path d="M6.600 12.400l3.700 3.600 7.200-7.600" stroke="#fff" stroke-width="1.900" stroke-linecap="round" stroke-linejoin="round"/></svg></div>
<span class="t" style="top:1174px;left:2288.5px;font-size:18.3px;line-height:21px;color:#5f5f65;letter-spacing:-0.08px;-webkit-text-stroke:0.2px #5f5f65;">Netherlands</span>
<svg style="position:absolute;left:0;top:0;overflow:visible" width="1" height="1"><path d="M2263.66 1235.16 L2267.7 1239.23 L2271.74 1235.16" stroke="#6b6b71" stroke-width="1.7" fill="none" stroke-linecap="round" stroke-linejoin="round"/></svg>
<span class="t" style="top:1227px;left:2292.8px;font-size:17.6px;line-height:20px;color:#222228;letter-spacing:-0.36px;-webkit-text-stroke:0.4px #222228;">Show all (184)</span>
<div style="position:absolute;left:2246.4px;top:1274px;width:244.2px;height:1px;background:#e6e6e9;"></div>
<span class="t" style="top:1299px;left:2256.6px;font-size:14.8px;line-height:16px;color:#5f5f65;letter-spacing:-0.3px;-webkit-text-stroke:0.15px #5f5f65;">Event 1 of 1</span>
<div class="cb" style="left:2253.7px;top:1343px;background:#4f44e0;"><svg width="24" height="24" viewBox="0 0 24 24" fill="none"><path d="M6.600 12.400l3.700 3.600 7.200-7.600" stroke="#fff" stroke-width="1.900" stroke-linecap="round" stroke-linejoin="round"/></svg></div>
<span class="t" style="top:1345px;left:2288.5px;font-size:18.3px;line-height:21px;color:#5f5f65;letter-spacing:-0.55px;-webkit-text-stroke:0.2px #5f5f65;">Log In &nbsp;-&nbsp; Total</span>
<div class="btn" style="position:absolute;left:2219.7px;top:335px;width:148px;height:42.5px;"></div>
<svg style="position:absolute;left:2240px;top:344px;" width="26" height="26" viewBox="0 0 26 26" fill="none"><path d="M2.200 1.800v19c0 1.100.9 2 2 2h19" stroke="#222228" stroke-width="2" stroke-linecap="round"/><path d="M2.400 12.600h20.600" stroke="#222228" stroke-width="2" stroke-linecap="round"/></svg>
<span class="t" style="top:346px;left:2278.5px;font-size:18.6px;line-height:21px;color:#222228;letter-spacing:-0.2px;-webkit-text-stroke:0.35px #222228;">Linear</span>
<svg style="position:absolute;left:0;top:0;overflow:visible" width="1" height="1"><path d="M2340.9 356.25 L2344.9 360.55 L2348.9 356.25" stroke="#222228" stroke-width="2" fill="none" stroke-linecap="round" stroke-linejoin="round"/></svg>
<div style="position:absolute;left:2377.8px;top:335px;width:124px;height:42.5px;box-sizing:border-box;background:#dbd9f4;border:1px solid #c8c5ee;border-radius:8px;"></div>
<svg style="position:absolute;left:2398px;top:344px;" width="26" height="26" viewBox="0 0 23.6 23.600" fill="none"><path d="M2 1.600v17.800c0 1.100.9 2 2 2h17.600" stroke="#4f44e0" stroke-width="2" stroke-linecap="round"/><path d="M6.400 4.800h15.200" stroke="#4f44e0" stroke-width="1.900" stroke-linecap="round"/><path d="M6.400 10.200h12" stroke="#7b68ee" stroke-width="1.900" stroke-linecap="round"/><path d="M6.400 15.600h8.600" stroke="#4f44e0" stroke-width="1.900" stroke-linecap="round"/></svg>
<span class="t" style="top:346px;left:2436.8px;font-size:18.6px;line-height:21px;color:#4f44e0;letter-spacing:-0.2px;-webkit-text-stroke:0.35px #4f44e0;">Bar</span>
<svg style="position:absolute;left:0;top:0;overflow:visible" width="1" height="1"><path d="M2475.4 356.25 L2479.4 360.55 L2483.4 356.25" stroke="#4f44e0" stroke-width="2" fill="none" stroke-linecap="round" stroke-linejoin="round"/></svg>
<div style="position:absolute;left:2234px;top:382.8px;width:268.6px;height:400.2px;box-sizing:border-box;background:#fff;border:1px solid #dedee2;border-radius:17px;box-shadow:0 4px 14px rgba(0,0,0,.13),0 1px 3px rgba(0,0,0,.06);"></div>
<div style="position:absolute;left:2246px;top:502.3px;width:245px;height:53.5px;background:#4f44e0;border-radius:9px;"></div>
<svg style="position:absolute;left:2255.2px;top:408.6px;" width="24.6" height="24.6" viewBox="0 0 23.6 23.6" fill="none"><path d="M2 1.600v17.800c0 1.100.9 2 2 2h17.600" stroke="#222228" stroke-width="2" stroke-linecap="round"/><path d="M5.400 14.800l5-6.200 3.600 3.200 5.800-5" stroke="#222228" stroke-width="1.900" stroke-linecap="round" stroke-linejoin="round"/></svg>
<span class="t" style="top:411px;left:2293.5px;font-size:18.5px;line-height:21px;color:#222228;letter-spacing:-0.42px;-webkit-text-stroke:0.35px #222228;">Line</span>
<svg style="position:absolute;left:2255.2px;top:462.6px;" width="24.6" height="24.6" viewBox="0 0 23.6 23.6" fill="none"><path d="M2 1.600v17.800c0 1.100.9 2 2 2h17.600" stroke="#222228" stroke-width="2" stroke-linecap="round"/><path d="M5.400 11.800l5-5.800 3.600 3 5.800-6.400" stroke="#222228" stroke-width="1.900" stroke-linecap="round" stroke-linejoin="round"/><path d="M5.400 17l5-5 3.600 2.400 6-4.800" stroke="#222228" stroke-width="1.900" stroke-linecap="round" stroke-linejoin="round"/></svg>
<span class="t" style="top:465px;left:2293.5px;font-size:18.5px;line-height:21px;color:#222228;letter-spacing:-0.42px;-webkit-text-stroke:0.35px #222228;">Stacked Line</span>
<svg style="position:absolute;left:2255.2px;top:516.6px;" width="24.6" height="24.6" viewBox="0 0 23.6 23.6" fill="none"><path d="M2 1.600v17.800c0 1.100.9 2 2 2h17.600" stroke="#fff" stroke-width="2" stroke-linecap="round"/><path d="M6.400 4.800h15.200" stroke="#fff" stroke-width="1.900" stroke-linecap="round"/><path d="M6.400 10.200h12" stroke="#e3c9ff" stroke-width="1.900" stroke-linecap="round"/><path d="M6.400 15.600h8.600" stroke="#fff" stroke-width="1.900" stroke-linecap="round"/></svg>
<span class="t" style="top:519px;left:2293.5px;font-size:18.5px;line-height:21px;color:#fff;letter-spacing:-0.42px;-webkit-text-stroke:0.35px #fff;">Bar</span>
<svg style="position:absolute;left:2255.2px;top:570.6px;" width="24.6" height="24.6" viewBox="0 0 23.6 23.6" fill="none"><path d="M2 1.600v17.800c0 1.100.9 2 2 2h17.600" stroke="#222228" stroke-width="2" stroke-linecap="round"/><path d="M6.400 4.800h8.200M17.400 4.800h1.600M21 4.800h.8" stroke="#222228" stroke-width="1.900" stroke-linecap="round"/><path d="M6.400 10.200h6M15 10.200h4.600" stroke="#222228" stroke-width="1.900" stroke-linecap="round"/><path d="M6.400 15.600h3.600M12.800 15.600h1.600M17 15.600h1" stroke="#222228" stroke-width="1.900" stroke-linecap="round"/></svg>
<span class="t" style="top:573px;left:2293.5px;font-size:18.5px;line-height:21px;color:#222228;letter-spacing:-0.42px;-webkit-text-stroke:0.35px #222228;">Stacked Bar</span>
<svg style="position:absolute;left:2255.2px;top:624.6px;" width="24.6" height="24.6" viewBox="0 0 23.6 23.6" fill="none"><g transform="translate(-0.9 -0.7) scale(1.06)"><path d="M20.210 15.290A9.600 9.600 0 1 1 8 3.200" stroke="#222228" stroke-width="1.900" stroke-linecap="round"/><path d="M21.200 11.400A9.800 9.800 0 0 0 11.400 1.600v9.800z" stroke="#222228" stroke-width="1.900" stroke-linejoin="round"/></g></svg>
<span class="t" style="top:627px;left:2293.5px;font-size:18.5px;line-height:21px;color:#222228;letter-spacing:-0.9px;-webkit-text-stroke:0.35px #222228;">Pie</span>
<svg style="position:absolute;left:2255.2px;top:678.6px;" width="24.6" height="24.6" viewBox="0 0 23.6 23.6" fill="none"><rect x="1.400" y="1.400" width="20.200" height="20.200" rx="3" stroke="#222228" stroke-width="2"/><path d="M1.600 8.200h20M1.600 14.800h20M8.200 1.600v20M14.800 1.600v20" stroke="#222228" stroke-width="2"/></svg>
<span class="t" style="top:681px;left:2293.5px;font-size:18.5px;line-height:21px;color:#222228;letter-spacing:-0.42px;-webkit-text-stroke:0.35px #222228;">Table</span>
<svg style="position:absolute;left:2255.2px;top:732.6px;" width="24.6" height="24.6" viewBox="0 0 23.6 23.6" fill="none"><path d="M9.400 2.200 5.800 20.800M17.600 2.200 14 20.800M3.200 8h18.200M1.800 15.200h18.200" stroke="#222228" stroke-width="2" stroke-linecap="round"/></svg>
<span class="t" style="top:735px;left:2293.5px;font-size:18.5px;line-height:21px;color:#222228;letter-spacing:0.13px;-webkit-text-stroke:0.35px #222228;">Metric</span>
<div style="position:absolute;left:2023px;top:502.3px;width:212.5px;height:197.2px;background:#29282e;border-radius:5px;box-shadow:0 3px 8px rgba(0,0,0,.18);"></div>
<svg style="position:absolute;left:2235px;top:517px;" width="12" height="24" viewBox="0 0 12 24" fill="none"><path d="M0 2.400 9.800 11.800 0 21.200z" fill="#29282e"/></svg>
<div style="position:absolute;left:2035px;top:514.3px;width:189px;height:105.7px;background:#fff;border-radius:3.500px;"></div>
<div style="position:absolute;left:2046px;top:524.5px;width:163.8px;height:25.5px;background:#7856ff;border-radius:3.500px;"></div>
<div style="position:absolute;left:2046px;top:554.2px;width:121.3px;height:25.3px;background:#ff7557;border-radius:3.500px;"></div>
<div style="position:absolute;left:2046px;top:583.8px;width:23px;height:25px;background:#80e1d9;border-radius:3.500px;"></div>
<svg style="position:absolute;left:2200px;top:529px;" width="18" height="18" viewBox="0 0 18 18" fill="none"><circle cx="8.500" cy="8.600" r="4.800" fill="#7856ff" stroke="#29282e" stroke-width="2.100"/></svg>
<svg style="position:absolute;left:2157.5px;top:558.4px;" width="18" height="18" viewBox="0 0 18 18" fill="none"><circle cx="8.500" cy="8.600" r="4.800" fill="#ff7557" stroke="#29282e" stroke-width="2.100"/></svg>
<svg style="position:absolute;left:2059.5px;top:587.6px;" width="18" height="18" viewBox="0 0 18 18" fill="none"><circle cx="8.500" cy="8.600" r="4.800" fill="#80e1d9" stroke="#29282e" stroke-width="2.100"/></svg>
<span class="t" style="top:632px;left:2035.2px;font-size:15.6px;line-height:17px;color:#fff;letter-spacing:0.05px;-webkit-text-stroke:0.3px #fff;">Bars are best to display</span>
<span class="t" style="top:650px;left:2035.2px;font-size:15.6px;line-height:17px;color:#fff;letter-spacing:0.26px;-webkit-text-stroke:0.3px #fff;">comparisons between</span>
<span class="t" style="top:668px;left:2035.2px;font-size:15.6px;line-height:17px;color:#fff;letter-spacing:0.12px;-webkit-text-stroke:0.3px #fff;">categories.</span>
<div style="position:absolute;left:528px;top:1454px;width:2140px;height:40px;box-shadow:0 0 60px 0 rgba(0,0,0,.19);background:#000;"></div>
<div style="position:absolute;left:2528.5px;top:1378.5px;width:59px;height:59px;box-sizing:border-box;background:#fff;border:1px solid #ececef;border-radius:50%;box-shadow:0 4px 12px rgba(0,0,0,.12),0 0 36px 46px #fff;"></div>
<svg style="position:absolute;left:2547.4px;top:1397.2px;" width="21.4" height="21.4" viewBox="0 0 24 24" fill="none"><path d="M10 13a5 5 0 0 0 7.540.540l3-3a5 5 0 0 0-7.070-7.070l-1.720 1.710" stroke="#222228" stroke-width="2.250" stroke-linecap="round" stroke-linejoin="round"/><path d="M14 11a5 5 0 0 0-7.540-.540l-3 3a5 5 0 0 0 7.070 7.070l1.710-1.710" stroke="#222228" stroke-width="2.250" stroke-linecap="round" stroke-linejoin="round"/></svg>
<svg style="position:absolute;left:0px;top:1445px;" width="9" height="9" viewBox="0 0 9 9" fill="none"><path d="M0 0v9h9A9 9 0 0 1 0 0z" fill="#1d1d22"/></svg>
<svg style="position:absolute;left:2601px;top:1445px;" width="9" height="9" viewBox="0 0 9 9" fill="none"><path d="M9 0v9H0A9 9 0 0 0 9 0z" fill="#1d1d22"/></svg>
</section>
</div>
</body>
</html>
